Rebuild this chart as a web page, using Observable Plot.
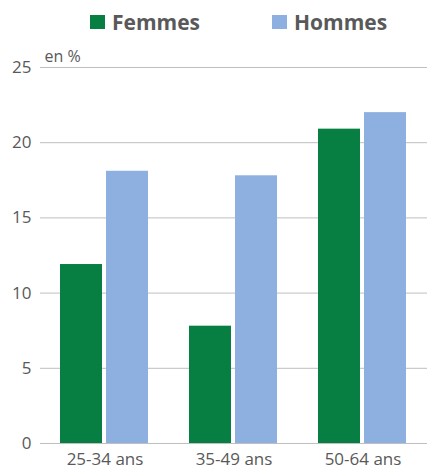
<!DOCTYPE html>
<html><head><meta charset="utf-8">
<script src="https://cdn.jsdelivr.net/npm/d3@7"></script>
<script src="https://cdn.jsdelivr.net/npm/@observablehq/plot@0.6"></script>
<style>
html,body{margin:0;padding:0;background:#fff;overflow:hidden;}
body{width:428px;height:470px;font-family:"Open Sans",sans-serif;color:#595959;}
#legend{height:44px;position:relative;}
.item{position:absolute;top:8px;display:flex;align-items:center;font-weight:bold;font-size:21px;color:#595959;}
.sw{width:15px;height:14px;margin-right:7px;}
</style></head>
<body>
<div id="legend"></div>
<div id="chart"></div>
<script>
const groups = ["25-34 ans", "35-49 ans", "50-64 ans"];
const series = ["Femmes", "Hommes"];
const femmes = [11.9, 7.8, 20.9];
const hommes = [18.1, 17.8, 22.0];
const yTicks = [0, 5, 10, 15, 20, 25];
const colors = ["#077F43", "#8EB0E0"];

const data = [];
groups.forEach((g, i) => {
  data.push({group: g, sexe: series[0], value: femmes[i]});
  data.push({group: g, sexe: series[1], value: hommes[i]});
});

const legend = document.getElementById("legend");
const lx = [90, 272];
series.forEach((s, i) => {
  const d = document.createElement("div");
  d.className = "item";
  d.style.left = lx[i] + "px";
  d.innerHTML = `<div class="sw" style="background:${colors[i]}"></div><span>${s}</span>`;
  legend.appendChild(d);
});

const chart = Plot.plot({
  width: 428,
  height: 426,
  marginLeft: 39,
  marginRight: 0,
  marginTop: 23,
  marginBottom: 27,
  style: {fontFamily: "Open Sans, sans-serif", fontSize: "16px", color: "#595959", background: "#fff"},
  fx: {domain: groups, padding: 0, label: null},
  x: {domain: series, axis: null, paddingInner: 0.085, paddingOuter: 0.422},
  y: {domain: [0, 25], label: null},
  color: {domain: series, range: colors},
  marks: [
    Plot.ruleY(yTicks, {stroke: "#bfbfbf", strokeWidth: 1}),
    Plot.barY(data, {fx: "group", x: "sexe", y: "value", fill: "sexe"}),
    Plot.axisY({ticks: yTicks, tickSize: 0, tickPadding: 9, fontSize: 17, fill: "#595959", label: null}),
    Plot.axisFx({anchor: "bottom", tickSize: 0, tickPadding: 9, fontSize: 17, fill: "#595959", label: null}),
    Plot.text([{g: groups[0], y: 25, t: "en %"}], {fx: "g", y: "y", text: "t", frameAnchor: "left", textAnchor: "start", dx: 4, dy: -11, fontSize: 16, fill: "#595959"})
  ]
});
document.getElementById("chart").appendChild(chart);
</script>
</body></html>
